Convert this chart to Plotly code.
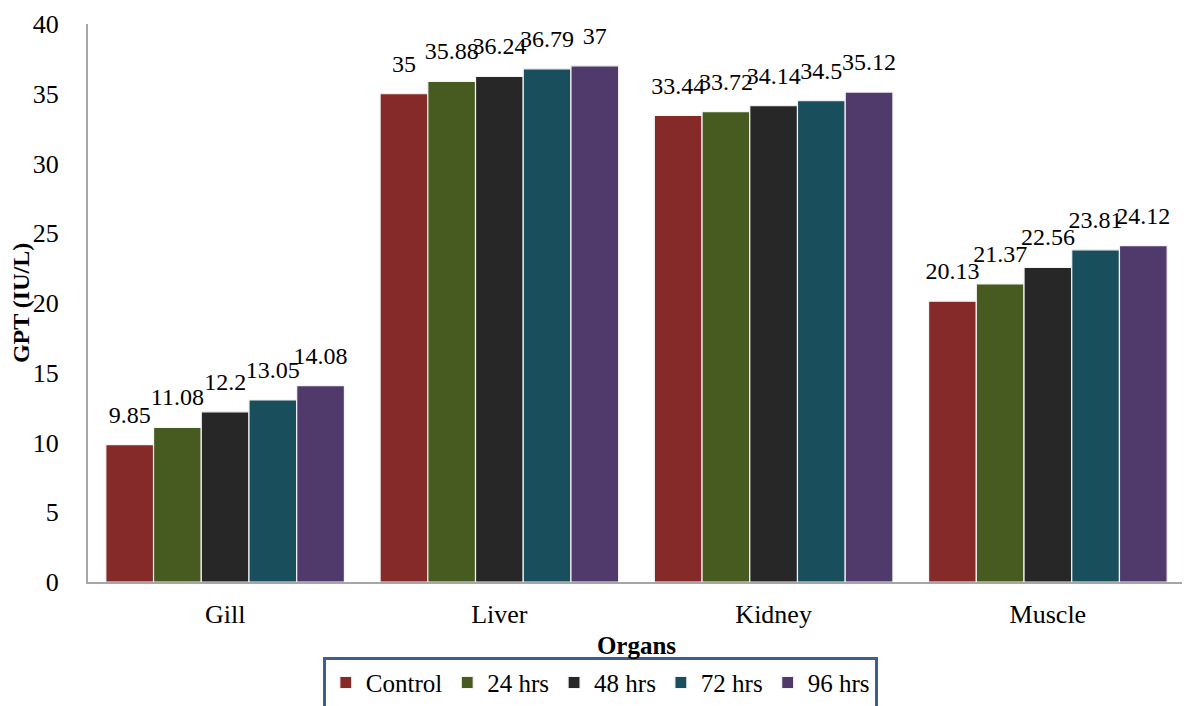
import plotly.graph_objects as go

organs = ["Gill", "Liver", "Kidney", "Muscle"]
series_names = ["Control", "24 hrs", "48 hrs", "72 hrs", "96 hrs"]
control = [9.85, 35, 33.44, 20.13]
hrs24 = [11.08, 35.88, 33.72, 21.37]
hrs48 = [12.2, 36.24, 34.14, 22.56]
hrs72 = [13.05, 36.79, 34.5, 23.81]
hrs96 = [14.08, 37, 35.12, 24.12]
y_ticks = [0, 5, 10, 15, 20, 25, 30, 35, 40]

series_values = [control, hrs24, hrs48, hrs72, hrs96]
colors = ["#852a29", "#475b21", "#272727", "#194e5d", "#503a6c"]

FONT = "Liberation Serif"
GAP = 0.13

fig = go.Figure()
for name, vals, col in zip(series_names, series_values, colors):
    fig.add_trace(go.Bar(
        x=organs, y=vals, name=name,
        marker=dict(color=col, line=dict(color="#f4f4f4", width=1.2)),
    ))
for name, vals in zip(series_names, series_values):
    fig.add_trace(go.Scatter(
        x=organs, y=vals, mode="markers+text", showlegend=False, hoverinfo="skip",
        marker=dict(size=24, opacity=0),
        text=[f"{v:g}" for v in vals], textposition="top center",
        cliponaxis=False,
        textfont=dict(family=FONT, size=24, color="black"),
    ))

fig.update_layout(
    width=1190, height=706,
    margin=dict(l=80, r=13, t=16, b=132, autoexpand=False),
    paper_bgcolor="white", plot_bgcolor="white",
    barmode="group", bargap=GAP, bargroupgap=0,
    scattermode="group", scattergap=GAP,
    font=dict(family=FONT, size=24, color="black"),
    showlegend=True,
    legend=dict(
        orientation="h", x=0.467, xanchor="center", y=-0.134, yanchor="top",
        font=dict(family=FONT, size=25, color="black"),
        bordercolor="#3d5f8b", borderwidth=3, bgcolor="white",
        itemwidth=30, traceorder="normal",
    ),
    xaxis=dict(
        showline=True, linecolor="#a6a6a6", linewidth=2, automargin=True,
        ticks="", showgrid=False, ticklabelstandoff=8,
        tickfont=dict(family=FONT, size=26, color="black"),
        title=dict(text="<b>Organs</b>", font=dict(family=FONT, size=25, color="black"), standoff=8),
    ),
    yaxis=dict(
        range=[0, 40], tickvals=y_ticks, showline=True, linecolor="#a6a6a6", linewidth=2,
        ticks="", showgrid=False, zeroline=False, ticklabelstandoff=22, automargin=True,
        tickfont=dict(family=FONT, size=26, color="black"),
        title=dict(text="<b>GPT (IU/L)</b>", font=dict(family=FONT, size=24, color="black"), standoff=4),
    ),
)

fig.write_html("out.html")
